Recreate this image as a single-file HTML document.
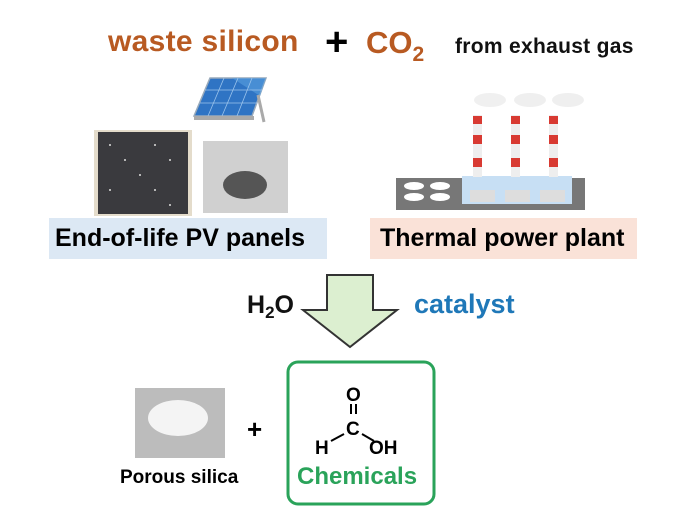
<!DOCTYPE html>
<html><head><style>
body{margin:0;width:700px;height:525px;background:#fff;position:relative;overflow:hidden;font-family:"Liberation Sans",Arial,sans-serif;font-weight:bold}
.a{position:absolute;white-space:nowrap}
</style></head><body>
<div class="a" style="left:108px;top:25px;font-size:30px;color:#b85a22;letter-spacing:0.3px">waste silicon</div>
<div class="a" style="left:325px;top:20px;font-size:40px;color:#000">+</div>
<div class="a" style="left:366px;top:25px;font-size:31px;color:#b85a22">CO<sub style="font-size:21px;vertical-align:-8px">2</sub></div>
<div class="a" style="left:455px;top:35px;font-size:21px;color:#111;letter-spacing:0.3px">from exhaust gas</div>

<svg class="a" style="left:0;top:0" width="700" height="525">
 <polygon points="210,78 266,78 252,116 194,116" fill="#2f74c4" stroke="#9ab" stroke-width="1.5"/>
 <polygon points="232,78 266,78 260,96" fill="#5aa0e0" opacity=".6"/>
 <g stroke="#9cc4ec" stroke-width="0.8"><line x1="205" y1="90" x2="262" y2="90"/><line x1="200" y1="103" x2="257" y2="103"/><line x1="224" y1="78" x2="208" y2="116"/><line x1="238" y1="78" x2="222" y2="116"/><line x1="252" y1="78" x2="237" y2="116"/></g>
 <rect x="194" y="116" width="60" height="4" fill="#aaa"/><line x1="258" y1="95" x2="264" y2="122" stroke="#aaa" stroke-width="3"/>
 <rect x="94" y="130" width="98" height="86" fill="#e4dccb"/>
 <rect x="98" y="132" width="90" height="82" fill="#3a3a3e"/>
 <g fill="#ddd"><circle cx="110" cy="145" r="1"/><circle cx="125" cy="160" r="1"/><circle cx="140" cy="175" r="1"/><circle cx="155" cy="190" r="1"/><circle cx="170" cy="205" r="1"/><circle cx="110" cy="190" r="1"/><circle cx="155" cy="145" r="1"/><circle cx="170" cy="160" r="1"/></g>
 <rect x="203" y="141" width="85" height="72" fill="#d0d0d0"/>
 <ellipse cx="245" cy="185" rx="22" ry="14" fill="#555"/>
 <rect x="49" y="218" width="278" height="41" fill="#dce8f4"/>
 <rect x="370" y="218" width="267" height="41" fill="#fae2d8"/>
 <g fill="#eee" opacity=".9"><ellipse cx="490" cy="100" rx="16" ry="7"/><ellipse cx="530" cy="100" rx="16" ry="7"/><ellipse cx="568" cy="100" rx="16" ry="7"/></g>
 <rect x="396" y="178" width="189" height="32" fill="#777"/>
 <rect x="462" y="176" width="110" height="28" fill="#c7dff4"/>
 <g fill="#fff"><ellipse cx="414" cy="186" rx="10" ry="4"/><ellipse cx="440" cy="186" rx="10" ry="4"/><ellipse cx="414" cy="197" rx="10" ry="4"/><ellipse cx="440" cy="197" rx="10" ry="4"/></g>
 <g fill="#ddd"><rect x="470" y="190" width="25" height="12"/><rect x="505" y="190" width="25" height="12"/><rect x="540" y="190" width="25" height="12"/></g>
 <g>
  <rect x="473" y="115" width="9" height="62" fill="#eee"/><rect x="511" y="115" width="9" height="62" fill="#eee"/><rect x="549" y="115" width="9" height="62" fill="#eee"/>
  <g fill="#d83a32"><rect x="473" y="116" width="9" height="8"/><rect x="473" y="135" width="9" height="9"/><rect x="473" y="158" width="9" height="9"/>
  <rect x="511" y="116" width="9" height="8"/><rect x="511" y="135" width="9" height="9"/><rect x="511" y="158" width="9" height="9"/>
  <rect x="549" y="116" width="9" height="8"/><rect x="549" y="135" width="9" height="9"/><rect x="549" y="158" width="9" height="9"/></g>
 </g>
 <polygon points="327,275 373,275 373,310 397,310 350,347 303,310 327,310" fill="#dcefd0" stroke="#333" stroke-width="2"/>
 <rect x="135" y="388" width="90" height="70" fill="#bcbcbc"/>
 <ellipse cx="178" cy="418" rx="30" ry="18" fill="#f4f4f4"/>
 <rect x="288" y="362" width="146" height="142" rx="10" fill="#fff" stroke="#2aa35a" stroke-width="3"/>
 <g stroke="#000" stroke-width="2"><line x1="351" y1="404" x2="351" y2="414"/><line x1="356" y1="404" x2="356" y2="414"/><line x1="331" y1="441" x2="344" y2="434"/><line x1="362" y1="434" x2="374" y2="441"/></g>
 <g font-family="Liberation Sans,Arial,sans-serif" font-size="19" font-weight="bold" fill="#000">
  <text x="346" y="401">O</text><text x="346" y="435">C</text><text x="315" y="454">H</text><text x="369" y="454">OH</text>
 </g>
</svg>
<div class="a" style="left:55px;top:224px;font-size:25px;color:#000">End-of-life PV panels</div>
<div class="a" style="left:380px;top:224px;font-size:25px;color:#000">Thermal power plant</div>
<div class="a" style="left:247px;top:291px;font-size:25px;color:#111">H<sub style="font-size:17px;vertical-align:-5px">2</sub>O</div>
<div class="a" style="left:414px;top:289px;font-size:27px;color:#1f78b8">catalyst</div>
<div class="a" style="left:247px;top:414px;font-size:26px;color:#000">+</div>
<div class="a" style="left:120px;top:467px;font-size:19px;color:#000">Porous silica</div>
<div class="a" style="left:297px;top:463px;font-size:24px;color:#2aa35a">Chemicals</div>
</body></html>
